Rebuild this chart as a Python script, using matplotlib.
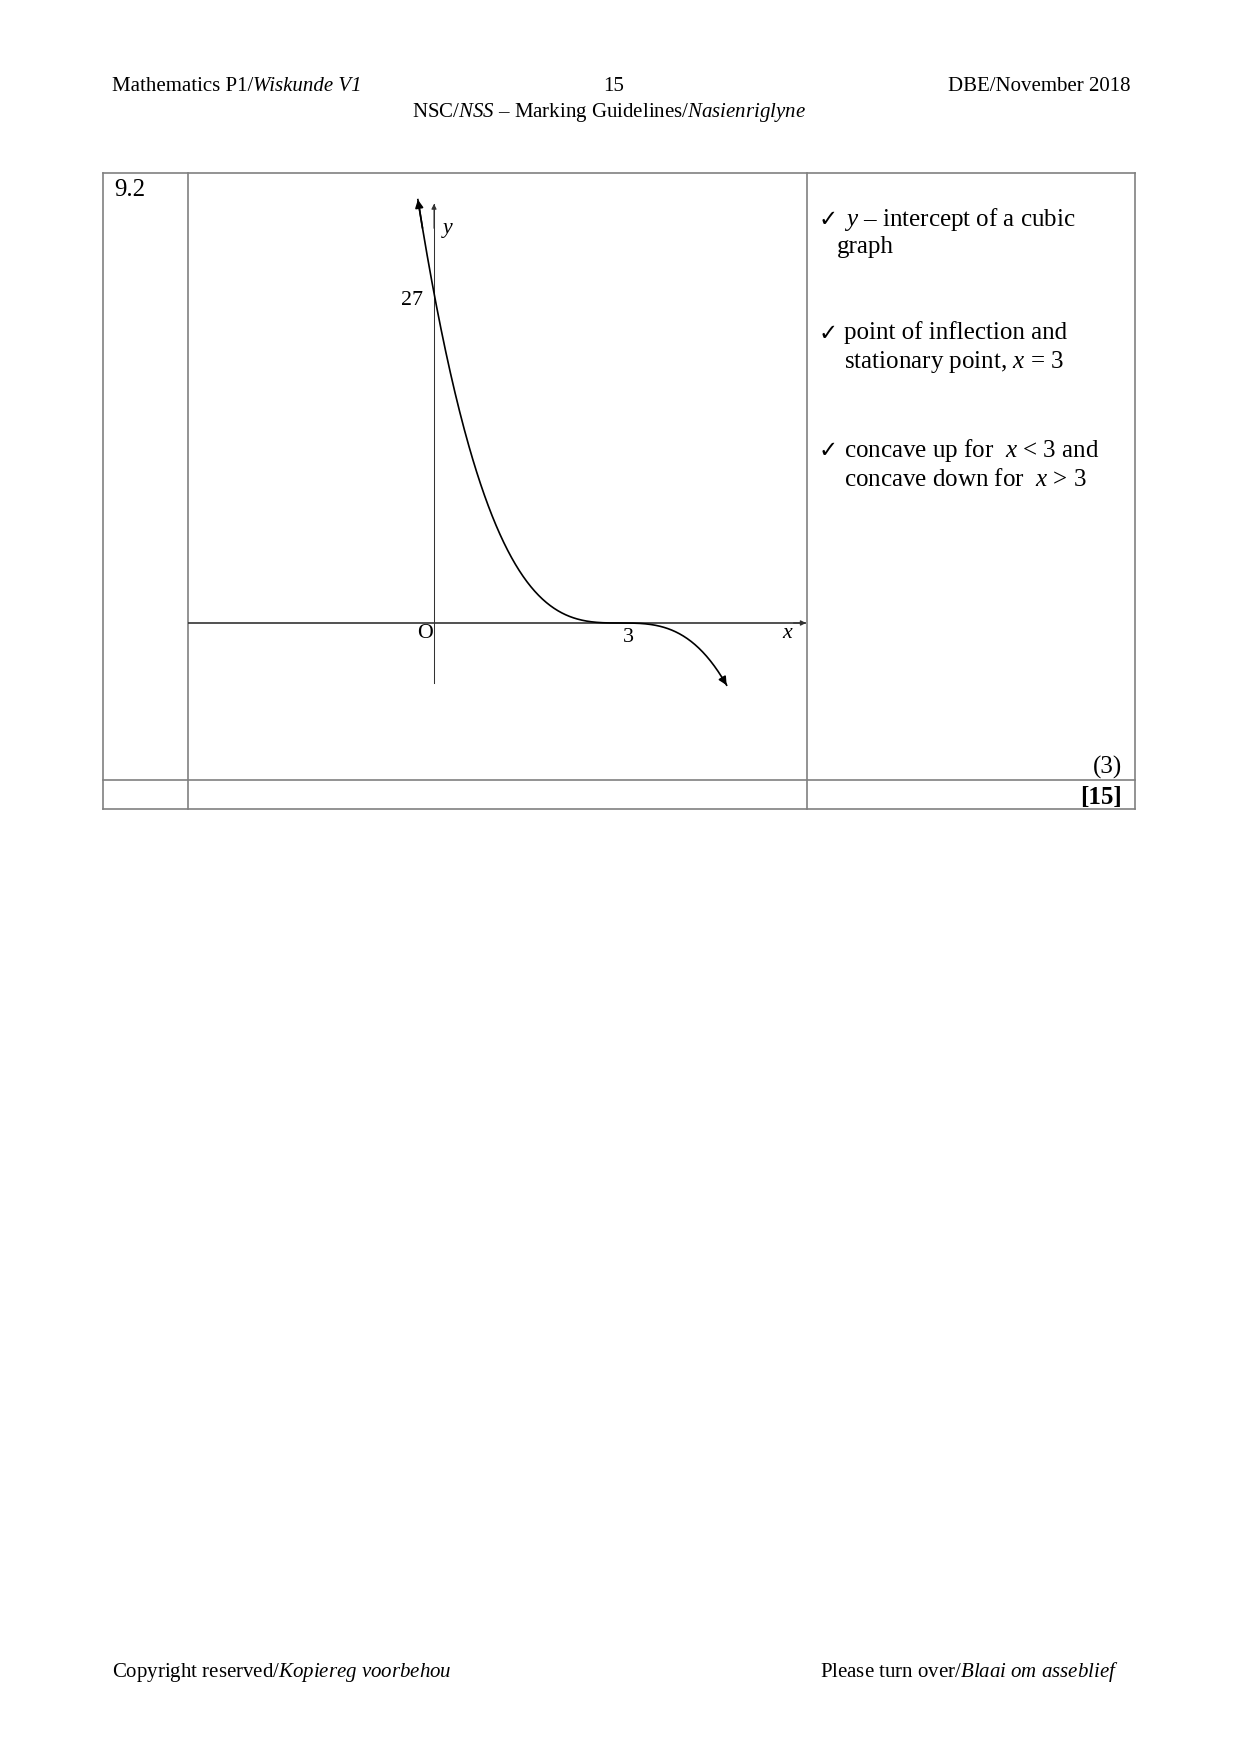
import matplotlib
matplotlib.use("Agg")
import numpy as np
import matplotlib.pyplot as plt

plt.rcParams["font.family"] = ["Liberation Serif", "DejaVu Sans"]
plt.rcParams["mathtext.fontset"] = "custom"
plt.rcParams["mathtext.rm"] = "Liberation Serif"
plt.rcParams["mathtext.it"] = "Liberation Serif:italic"
plt.rcParams["mathtext.bf"] = "Liberation Serif:bold"

# values
question = "9.2"
y_intercept = 27
inflection_x = 3
curve_x_range = [-0.26, 4.72]
x_axis_range = [-3.97, 6.0]
y_axis_range = [-4.9, 34.3]
tick_labels = ["27", "O", "3"]
axis_labels = ["x", "y"]
marks = "(3)"
total = "[15]"
memo_lines = [
    r"$y$ – intercept of a cubic",
    "point of inflection and",
    "concave up for  $x$ < 3 and",
]
memo_cont = [
    "graph",
    r"stationary point, $x$ = 3",
    r"concave down for  $x$ > 3",
]
header_left = [("Mathematics P1/", "normal"), ("Wiskunde V1", "italic")]
header_mid = "15"
header_right = "DBE/November 2018"
header_sub = r"NSC/$\mathit{NSS}$ – Marking Guidelines/$\mathit{Nasienriglyne}$"
footer_left = r"Copyright reserved/$\mathit{Kopiereg\ voorbehou}$"
footer_right = r"Please turn over/$\mathit{Blaai\ om\ asseblief}$"

W, H, DPI = 1241, 1755, 150
fig = plt.figure(figsize=(W / DPI, H / DPI), dpi=DPI)
fig.patch.set_facecolor("white")

page = fig.add_axes([0, 0, 1, 1])
page.set_xlim(0, W)
page.set_ylim(H, 0)
page.axis("off")
renderer = fig.canvas.get_renderer()


def runs_left(x, y, runs, size):
    # lay text pieces one after another, left aligned
    for s, style in runs:
        t = page.text(x, y, s, fontsize=size, style=style, ha="left",
                      va="center")
        bb = t.get_window_extent(renderer)
        x += bb.width * W / fig.bbox.width


# header / footer
runs_left(112, 86, header_left, 10)
page.text(614, 86, header_mid, fontsize=10, ha="center", va="center")
page.text(1131, 86, header_right, fontsize=10, ha="right", va="center")
page.text(609, 112, header_sub, fontsize=10, ha="center", va="center")
page.text(112, 1672, footer_left, fontsize=10, ha="left", va="center")
page.text(1119, 1672, footer_right, fontsize=10, ha="right", va="center")

# table grid
left, c1, c2, right = 102.5, 187.5, 806.5, 1134.5
top, mid, bottom = 173, 780, 809
grid = dict(color="#808080", lw=0.8)
for yy in (top, mid, bottom):
    page.plot([left, right], [yy, yy], **grid)
for xx in (left, c1, c2, right):
    page.plot([xx, xx], [top, bottom], **grid)

page.text(114, 190, question, fontsize=12, ha="left", va="center")

# memo column
line_y = [(219, 247), (333, 362), (450, 480)]
for (y1, y2), first, second in zip(line_y, memo_lines, memo_cont):
    page.text(819, y1, "\u2713", family="DejaVu Sans", fontsize=11,
              ha="left", va="center")
    page.text(844, y1, first, fontsize=12, ha="left", va="center")
    page.text(844 if second != "graph" else 837, y2, second, fontsize=12,
              ha="left", va="center")

page.text(1122, 767, marks, fontsize=12, ha="right", va="center")
page.text(1122, 797, total, fontsize=12, fontweight="bold", ha="right",
          va="center")

# graph cell
ox, oy = 434, 623          # origin in page pixels
px_x, px_y = 62.0, 12.22   # pixels per unit
ax = fig.add_axes([c1 / W, 1 - mid / H, (c2 - c1) / W, (mid - top) / H])
ax.patch.set_alpha(0)
ax.axis("off")
ax.set_xlim((c1 - ox) / px_x, (c2 - ox) / px_x)
ax.set_ylim((oy - mid) / px_y, (oy - top) / px_y)

# axes lines
ax.plot(x_axis_range, [0, 0], color="#333333", lw=0.8)
ax.annotate("", xy=(x_axis_range[1], 0), xytext=(x_axis_range[1] - 0.2, 0),
            arrowprops=dict(arrowstyle="-|>", color="#333333", lw=0.6,
                            mutation_scale=5, shrinkA=0, shrinkB=0))
ax.plot([0, 0], y_axis_range, color="#333333", lw=0.5)
ax.annotate("", xy=(0, y_axis_range[1]), xytext=(0, y_axis_range[1] - 2),
            arrowprops=dict(arrowstyle="-|>", color="#333333", lw=0.5,
                            mutation_scale=5, shrinkA=0, shrinkB=0))

# cubic through (0, 27) with inflection/stationary point at x = 3
x = np.linspace(curve_x_range[0], curve_x_range[1], 400)
y = y_intercept * (1 - x / inflection_x) ** 3
ax.plot(x, y, color="black", lw=0.8)
for i, j in ((0, 6), (-1, -7)):
    ax.annotate("", xy=(x[i], y[i]), xytext=(x[j], y[j]),
                arrowprops=dict(arrowstyle="-|>", color="black", lw=0.8,
                                mutation_scale=8, shrinkA=0, shrinkB=0))

ax.text(-0.355, 26.4, tick_labels[0], fontsize=10.5, ha="center", va="center")
ax.text(-0.145, -0.9, tick_labels[1], fontsize=10.5, ha="center", va="center")
ax.text(3.13, -1.15, tick_labels[2], fontsize=10.5, ha="center", va="center")
ax.text(5.69, -0.82, axis_labels[0], fontsize=10.5, style="italic",
        ha="center", va="center")
ax.text(0.226, 32.3, axis_labels[1], fontsize=10.5, style="italic",
        ha="center", va="center")

fig.savefig("out.png", dpi=DPI)
